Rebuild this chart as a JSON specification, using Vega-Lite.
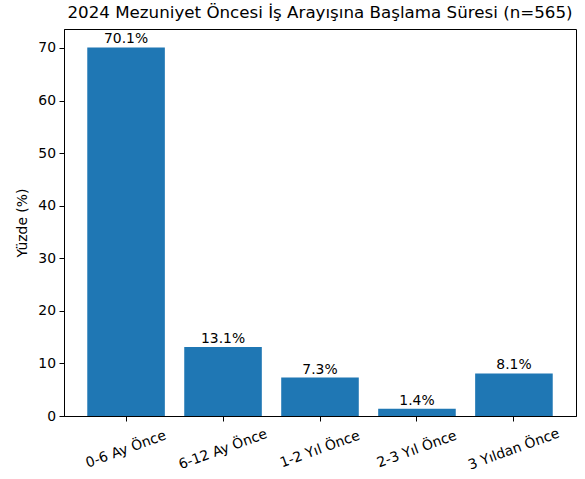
{
  "$schema": "https://vega.github.io/schema/vega-lite/v6.json",
  "width": 512,
  "height": 387,
  "autosize": {"type": "none"},
  "padding": {"left": 64, "top": 29, "right": 9, "bottom": 63},
  "background": "white",
  "config": {
    "font": "DejaVu Sans",
    "view": {"stroke": "black", "strokeWidth": 1},
    "axis": {"domainColor": "black", "tickColor": "black", "labelColor": "black", "titleColor": "black", "labelFont": "DejaVu Sans", "titleFont": "DejaVu Sans", "labelFontSize": 13.9, "titleFontSize": 13.9, "titleFontWeight": "normal", "tickSize": 5, "labelPadding": 3.5, "grid": false}
  },
  "title": {"text": "2024 Mezuniyet Öncesi İş Arayışına Başlama Süresi (n=565)", "font": "DejaVu Sans", "fontSize": 16.7, "fontWeight": "normal", "color": "black", "offset": 7},
  "data": {"values": [
    {"cat": "0-6 Ay Önce", "v": 70.1, "label": "70.1%"},
    {"cat": "6-12 Ay Önce", "v": 13.1, "label": "13.1%"},
    {"cat": "1-2 Yıl Önce", "v": 7.3, "label": "7.3%"},
    {"cat": "2-3 Yıl Önce", "v": 1.4, "label": "1.4%"},
    {"cat": "3 Yıldan Önce", "v": 8.1, "label": "8.1%"}
  ]},
  "encoding": {
    "x": {"field": "cat", "type": "nominal", "sort": null,
      "scale": {"paddingInner": 0.2, "paddingOuter": 0.24},
      "axis": {"title": null, "labelAngle": -20, "labelAlign": "center", "labelBaseline": "middle", "labelPadding": 28}},
    "y": {"field": "v", "type": "quantitative",
      "scale": {"domain": [0, 73.6], "nice": false},
      "axis": {"title": "Yüzde (%)", "values": [0, 10, 20, 30, 40, 50, 60, 70], "titlePadding": 8}}
  },
  "layer": [
    {"mark": {"type": "bar", "color": "#1f77b4"}},
    {"mark": {"type": "text", "baseline": "bottom", "dy": -1, "fontSize": 13.9, "color": "black", "font": "DejaVu Sans"},
     "encoding": {"text": {"field": "label"}}}
  ]
}
